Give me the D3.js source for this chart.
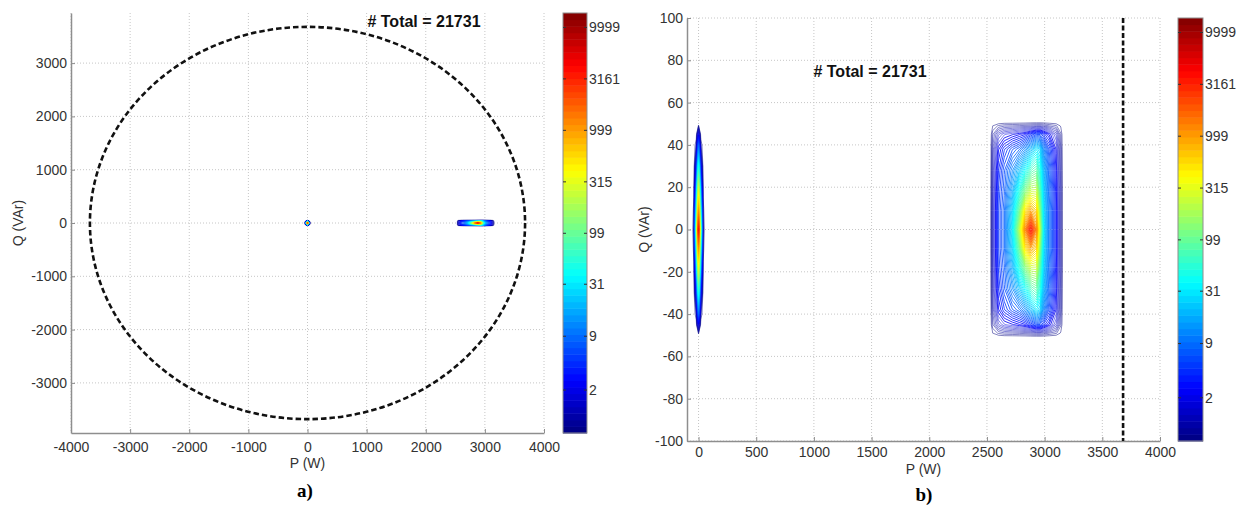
<!DOCTYPE html>
<html><head><meta charset="utf-8">
<script src="https://cdn.jsdelivr.net/npm/d3@7"></script>
<style>
body{margin:0;background:#fff;}
svg text{font-family:"Liberation Sans",Arial,Helvetica,sans-serif;}
</style></head><body>
<svg id="chart" width="1245" height="506"></svg>
<script>
// ---------------- data ----------------
const totalCount = 21731;
const apparentPowerLimit = 3680;               // S (VA), dashed limit
const colorbarTicks = [2, 9, 31, 99, 315, 999, 3161, 9999];   // counts, bar is log10(count+1)
const colorbarRange = [0.06, 4.14];            // log10(count+1) at bottom / top of bar
const leftXTicks = [-4000, -3000, -2000, -1000, 0, 1000, 2000, 3000, 4000];
const leftYTicks = [-3000, -2000, -1000, 0, 1000, 2000, 3000];
const rightXTicks = [0, 500, 1000, 1500, 2000, 2500, 3000, 3500, 4000];
const rightYTicks = [-100, -80, -60, -40, -20, 0, 20, 40, 60, 80, 100];

// 2-D histogram near P = 0 : log10(count+1), rows = Q, cols = P
const spikeP = [-60, -40, -20, 0, 20, 40, 60];
const spikeQ = [55, 50, 45, 40, 30, 20, 10, 0, -10, -20, -30, -40, -45, -50, -55];
const spikeLogCount = [
  [0, 0,    0,    0,   0,    0,    0],
  [0, 0,    0,    0,   0,    0,    0],
  [0, 0,    0,    0.5, 0,    0,    0],
  [0, 0,    0.12, 1.0, 0.12, 0,    0],
  [0, 0,    0.5,  1.7, 0.5,  0,    0],
  [0, 0.04, 0.95, 2.4, 0.95, 0.04, 0],
  [0, 0.08, 1.4,  3.0, 1.4,  0.08, 0],
  [0, 0.12, 1.8,  3.6, 1.8,  0.12, 0],
  [0, 0.08, 1.4,  3.0, 1.4,  0.08, 0],
  [0, 0.04, 0.95, 2.4, 0.95, 0.04, 0],
  [0, 0,    0.5,  1.7, 0.5,  0,    0],
  [0, 0,    0.12, 1.0, 0.12, 0,    0],
  [0, 0,    0,    0.5, 0,    0,    0],
  [0, 0,    0,    0,   0,    0,    0],
  [0, 0,    0,    0,   0,    0,    0]
];

// 2-D histogram of the operating cluster near P = 2880 W
const blobP = [2500, 2530, 2550, 2600, 2650, 2720, 2780, 2830, 2880, 2930, 2960, 2990, 3040, 3100, 3140, 3160, 3200];
const blobQ = [60, 51, 49, 45, 38, 28, 18, 9, 0, -9, -18, -28, -38, -45, -49, -51, -60];
const blobLogCount = [
  [0, 0, 0,    0,    0,    0,    0,    0,    0,    0,    0,    0,    0,    0,    0,    0, 0],
  [0, 0, 0,    0,    0,    0,    0,    0,    0,    0,    0,    0,    0,    0,    0,    0, 0],
  [0, 0, 0.06, 0.12, 0.15, 0.16, 0.17, 0.18, 0.2,  0.22, 0.22, 0.2,  0.16, 0.12, 0.05, 0, 0],
  [0, 0, 0.15, 0.35, 0.45, 0.5,  0.55, 0.6,  0.7,  0.8,  0.8,  0.7,  0.55, 0.35, 0.12, 0, 0],
  [0, 0, 0.22, 0.55, 0.7,  0.85, 0.95, 1.1,  1.3,  1.5,  1.4,  1.1,  0.8,  0.5,  0.16, 0, 0],
  [0, 0, 0.26, 0.66, 0.85, 1.1,  1.35, 1.6,  1.85, 1.95, 1.7,  1.3,  0.9,  0.55, 0.18, 0, 0],
  [0, 0, 0.28, 0.72, 0.9,  1.25, 1.7,  2.1,  2.4,  2.4,  1.9,  1.4,  0.95, 0.58, 0.2,  0, 0],
  [0, 0, 0.3,  0.75, 0.95, 1.4,  2.0,  2.7,  3.0,  2.8,  2.1,  1.45, 1.0,  0.6,  0.2,  0, 0],
  [0, 0, 0.3,  0.75, 0.95, 1.5,  2.3,  3.1,  3.6,  3.1,  2.3,  1.5,  1.0,  0.6,  0.2,  0, 0],
  [0, 0, 0.3,  0.75, 0.95, 1.4,  2.0,  2.7,  3.0,  2.8,  2.1,  1.45, 1.0,  0.6,  0.2,  0, 0],
  [0, 0, 0.28, 0.72, 0.9,  1.25, 1.7,  2.1,  2.4,  2.4,  1.9,  1.4,  0.95, 0.58, 0.2,  0, 0],
  [0, 0, 0.26, 0.66, 0.85, 1.1,  1.35, 1.6,  1.85, 1.95, 1.7,  1.3,  0.9,  0.55, 0.18, 0, 0],
  [0, 0, 0.22, 0.55, 0.7,  0.85, 0.95, 1.1,  1.3,  1.5,  1.4,  1.1,  0.8,  0.5,  0.16, 0, 0],
  [0, 0, 0.15, 0.35, 0.45, 0.5,  0.55, 0.6,  0.7,  0.8,  0.8,  0.7,  0.55, 0.35, 0.12, 0, 0],
  [0, 0, 0.06, 0.12, 0.15, 0.16, 0.17, 0.18, 0.2,  0.22, 0.22, 0.2,  0.16, 0.12, 0.05, 0, 0],
  [0, 0, 0,    0,    0,    0,    0,    0,    0,    0,    0,    0,    0,    0,    0,    0, 0],
  [0, 0, 0,    0,    0,    0,    0,    0,    0,    0,    0,    0,    0,    0,    0,    0, 0]
];

// ---------------- styles / helpers ----------------
const jetStops = ["#00007f","#0000ff","#007fff","#00ffff","#7fff7f","#ffff00","#ff7f00","#ff0000","#7f0000"];
const jet = d3.scaleLinear()
  .domain(jetStops.map((_, i) => colorbarRange[0] + i / 8 * (colorbarRange[1] - colorbarRange[0])))
  .range(jetStops).interpolate(d3.interpolateRgb).clamp(true);
const levels = d3.range(0.06, 3.6, 0.05);

const svg = d3.select("#chart");
const GRID = "#c6c6c6", AXIS = "#8e8e8e", TXT = "#333";
const fmt = d => String(d);

function buildContours(Ps, Qs, rows) {
  const n = Ps.length, m = Qs.length;
  const fx = d3.scaleLinear().domain(d3.range(n).map(i => i + 0.5)).range(Ps);
  const fy = d3.scaleLinear().domain(d3.range(m).map(i => i + 0.5)).range(Qs);
  const contours = d3.contours().size([n, m]).thresholds(levels)(rows.flat());
  return {fx, fy, contours};
}
const sets = [buildContours(spikeP, spikeQ, spikeLogCount), buildContours(blobP, blobQ, blobLogCount)];

function drawContours(g, xs, ys, sw) {
  sets.forEach(s => {
    const proj = d3.geoTransform({point(x, y) { this.stream.point(xs(s.fx(x)), ys(s.fy(y))); }});
    const path = d3.geoPath(proj);
    g.append("g").selectAll("path").data(s.contours.filter(c => c.coordinates.length)).join("path")
      .attr("d", path).attr("fill", "none")
      .attr("stroke", d => jet(d.value))
      .attr("stroke-width", d => d.value < 0.5 ? sw : sw * 1.25)
      .attr("stroke-opacity", d => d.value < 0.5 ? 0.75 : 1);
  });
}

function drawPanel(cfg) {
  const x = d3.scaleLinear().domain(cfg.xDomain).range([cfg.x0, cfg.x1]);
  const y = d3.scaleLinear().domain(cfg.yDomain).range([cfg.y1, cfg.y0]);
  const g = svg.append("g");
  // grid
  g.append("g").selectAll("line").data(cfg.xTicks).join("line")
    .attr("x1", d => x(d)).attr("x2", d => x(d)).attr("y1", cfg.y0).attr("y2", cfg.y1)
    .attr("stroke", GRID).attr("stroke-dasharray", "1,2");
  g.append("g").selectAll("line").data(cfg.yTicks).join("line")
    .attr("y1", d => y(d)).attr("y2", d => y(d)).attr("x1", cfg.x0).attr("x2", cfg.x1)
    .attr("stroke", GRID).attr("stroke-dasharray", "1,2");
  // axes
  const ax = g.append("g").attr("transform", `translate(0,${cfg.y1})`)
    .call(d3.axisBottom(x).tickValues(cfg.xTicks).tickFormat(fmt).tickSizeInner(-4).tickSizeOuter(0).tickPadding(cfg.xPad));
  const ay = g.append("g").attr("transform", `translate(${cfg.x0},0)`)
    .call(d3.axisLeft(y).tickValues(cfg.yTicks).tickFormat(fmt).tickSizeInner(-4).tickSizeOuter(0).tickPadding(4));
  [ax, ay].forEach(a => {
    a.select(".domain").attr("stroke", AXIS).attr("stroke-width", 1.5);
    a.selectAll(".tick line").attr("stroke", AXIS);
    a.selectAll("text").attr("fill", TXT).style("font-size", "14px")
      .style("font-family", '"Liberation Sans",Arial,sans-serif');
  });
  // data
  drawContours(g.append("g"), x, y, cfg.sw);
  cfg.extra(g, x, y);
  // labels
  g.append("text").attr("x", (cfg.x0 + cfg.x1) / 2).attr("y", cfg.xLabelY).attr("text-anchor", "middle")
    .attr("fill", TXT).style("font-size", "14px").text("P (W)");
  g.append("text").attr("transform", `translate(${cfg.yLabelX},${(cfg.y0 + cfg.y1) / 2}) rotate(-90)`)
    .attr("text-anchor", "middle").attr("fill", TXT).style("font-size", "14px").text("Q (VAr)");
  g.append("text").attr("x", cfg.totX).attr("y", cfg.totY).attr("text-anchor", "middle")
    .attr("fill", "#111").style("font-size", "16px").style("font-weight", "bold")
    .text(`# Total = ${totalCount}`);
  g.append("text").attr("x", cfg.tagX).attr("y", cfg.tagY).attr("text-anchor", "middle")
    .attr("fill", "#000").style("font-size", "19px").style("font-weight", "bold")
    .style("font-family", '"Liberation Serif","Times New Roman",serif').text(cfg.tag);
  // colorbar
  const cb = svg.append("g");
  const cy = d3.scaleLinear().domain(colorbarRange).range([cfg.cbY1, cfg.cbY0]);
  const nb = 64, step = (colorbarRange[1] - colorbarRange[0]) / nb;
  cb.selectAll("rect.band").data(d3.range(nb)).join("rect").attr("class", "band")
    .attr("x", cfg.cbX0).attr("width", cfg.cbX1 - cfg.cbX0)
    .attr("y", i => cy(colorbarRange[0] + (i + 1) * step))
    .attr("height", i => cy(colorbarRange[0] + i * step) - cy(colorbarRange[0] + (i + 1) * step) + 0.5)
    .attr("fill", i => jet(colorbarRange[0] + (i + 0.5) * step));
  cb.append("rect").attr("x", cfg.cbX0).attr("y", cfg.cbY0).attr("width", cfg.cbX1 - cfg.cbX0)
    .attr("height", cfg.cbY1 - cfg.cbY0).attr("fill", "none").attr("stroke", AXIS).attr("stroke-width", 1);
  const tk = cb.selectAll("g.tk").data(colorbarTicks).join("g").attr("class", "tk")
    .attr("transform", d => `translate(0,${cy(Math.log10(d + 1))})`);
  tk.append("line").attr("x1", cfg.cbX0).attr("x2", cfg.cbX0 + 3).attr("stroke", "#333");
  tk.append("line").attr("x1", cfg.cbX1 - 3).attr("x2", cfg.cbX1).attr("stroke", "#333");
  tk.append("text").attr("x", cfg.cbX1 + 2).attr("dy", "0.35em").attr("fill", TXT)
    .style("font-size", "14px").text(d => d);
}

drawPanel({
  xDomain: [-4000, 4000], yDomain: [-3940, 3940],
  x0: 71, x1: 544, y0: 13, y1: 433,
  xTicks: leftXTicks, yTicks: leftYTicks, xPad: 9, sw: 0.6,
  xLabelY: 468, yLabelX: 23, totX: 424, totY: 27, tagX: 305, tagY: 497, tag: "a)",
  cbX0: 563, cbX1: 587, cbY0: 13, cbY1: 433,
  extra(g, x, y) {
    g.append("ellipse").attr("cx", x(0)).attr("cy", y(0))
      .attr("rx", x(apparentPowerLimit) - x(0)).attr("ry", y(0) - y(apparentPowerLimit))
      .attr("fill", "none").attr("stroke", "#111").attr("stroke-width", 2.6).attr("stroke-dasharray", "5.5,3");
  }
});
drawPanel({
  xDomain: [-100, 4000], yDomain: [-100, 100],
  x0: 687, x1: 1160, y0: 18, y1: 441,
  xTicks: rightXTicks, yTicks: rightYTicks, xPad: 6, sw: 0.65,
  xLabelY: 474, yLabelX: 649, totX: 870, totY: 77, tagX: 924, tagY: 501, tag: "b)",
  cbX0: 1178, cbX1: 1203, cbY0: 18, cbY1: 441,
  extra(g, x, y) {
    g.append("line").attr("x1", x(apparentPowerLimit)).attr("x2", x(apparentPowerLimit))
      .attr("y1", y(100)).attr("y2", y(-100))
      .attr("stroke", "#111").attr("stroke-width", 2.6).attr("stroke-dasharray", "5,2.5");
  }
});
</script>
</body></html>
